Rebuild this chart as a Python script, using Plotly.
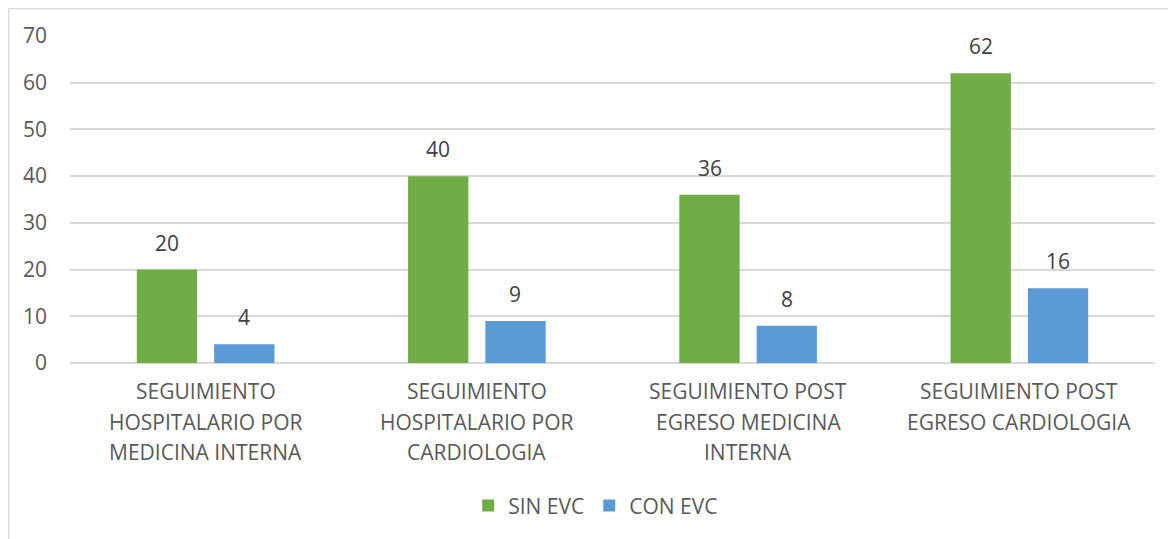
import plotly.graph_objects as go

categories = ["SEGUIMIENTO<br>HOSPITALARIO POR<br>MEDICINA INTERNA",
              "SEGUIMIENTO<br>HOSPITALARIO POR<br>CARDIOLOGIA",
              "SEGUIMIENTO POST<br>EGRESO MEDICINA<br>INTERNA",
              "SEGUIMIENTO POST<br>EGRESO CARDIOLOGIA"]
sin_evc = [20, 40, 36, 62]
con_evc = [4, 9, 8, 16]
series_names = ["SIN EVC", "CON EVC"]
colors = ["#70AD47", "#5B9BD5"]
y_ticks = [0, 10, 20, 30, 40, 50, 60, 70]

FONT = "Open Sans"
FS = 21
xcats = list(range(len(categories)))

fig = go.Figure()
for name, vals, col in zip(series_names, [sin_evc, con_evc], colors):
    fig.add_trace(go.Bar(x=xcats, y=vals, name=name, marker_color=col,
                         marker_line_width=0))

annotations = []
for vals, xs in zip([sin_evc, con_evc], [-38.5, 38.5]):
    for i, v in enumerate(vals):
        annotations.append(dict(x=i, y=v, xref="x", yref="y", text=str(v),
                                showarrow=False, xshift=xs, yshift=11,
                                yanchor="bottom",
                                font=dict(family=FONT, size=FS, color="#404040")))
for i, c in enumerate(categories):
    for j, line in enumerate(c.split("<br>")):
        annotations.append(dict(x=i, y=0, xref="x", yref="y", text=line,
                                showarrow=False, yanchor="top",
                                yshift=-12 - 30.5 * j,
                                font=dict(family=FONT, size=FS, color="#595959")))

fig.update_layout(
    width=1176, height=539,
    margin=dict(l=62, r=29, t=28, b=184),
    paper_bgcolor="white", plot_bgcolor="white",
    barmode="group", bargap=0.43, bargroupgap=0.22,
    font=dict(family=FONT, size=FS, color="#595959"),
    xaxis=dict(tickvals=xcats, ticktext=[""] * len(xcats), showgrid=False,
               showline=False, zeroline=False, range=[-0.5, 3.5]),
    yaxis=dict(range=[0, 70], tickvals=y_ticks, showgrid=True,
               gridcolor="#D9D9D9", gridwidth=1.5, zeroline=True,
               zerolinecolor="#D9D9D9", zerolinewidth=1.5, showline=False,
               ticklabelstandoff=22,
               tickfont=dict(family=FONT, size=FS, color="#595959")),
    legend=dict(orientation="h", x=0.4845, xanchor="center", y=-0.437,
                yanchor="middle", font=dict(family=FONT, size=FS, color="#595959"),
                itemwidth=30, traceorder="normal"),
    annotations=annotations,
    shapes=[
        dict(type="line", xref="paper", yref="paper", x0=-0.0567, x1=1.05,
             y0=1.0841, y1=1.0841, line=dict(color="#D9D9D9", width=1.5)),
        dict(type="line", xref="paper", yref="paper", x0=-0.0567, x1=-0.0567,
             y0=-0.6, y1=1.0841, line=dict(color="#D9D9D9", width=1.5)),
    ],
)
fig.write_html("out.html")
